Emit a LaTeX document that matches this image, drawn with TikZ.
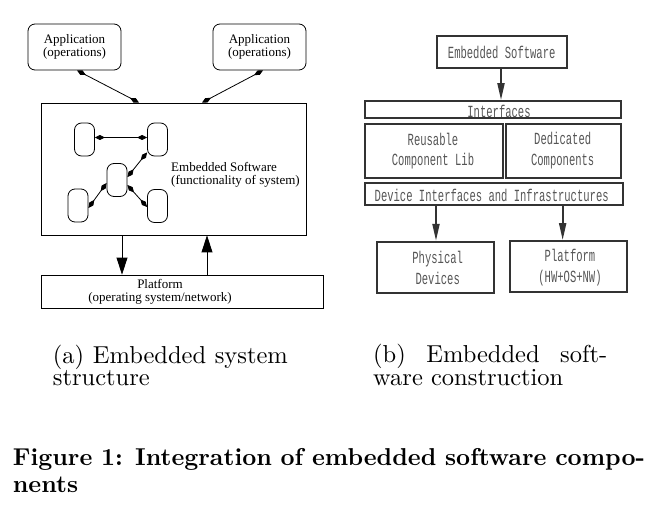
\documentclass[tikz,border=0pt]{standalone}
\usepackage{fontspec}
\newfontfamily\timesf{Liberation Serif}
\newfontfamily\condmono[FakeStretch=0.62]{Liberation Mono}
\newfontfamily\lmten[BoldFont=lmroman10-bold.otf]{lmroman10-regular.otf}
\usetikzlibrary{arrows.meta}
\definecolor{bline}{HTML}{333333}
\definecolor{btext}{HTML}{555555}
\begin{document}
\begin{tikzpicture}[x=1pt,y=-1pt,
  abox/.style={draw=black,line width=0.8pt,inner sep=0pt,align=center,font=\timesf\fontsize{13}{13}\selectfont},
  smallbox/.style={draw=black,line width=0.8pt,inner sep=0pt,rounded corners=7pt,minimum width=20pt,minimum height=33pt},
  atext/.style={inner sep=0pt,font=\timesf\fontsize{13}{13}\selectfont},
  dbl/.style={{Kite[length=10pt,width=5pt,inset=5pt]}-{Kite[length=10pt,width=5pt,inset=5pt]},line width=0.8pt},
  bigarr/.style={-{Triangle[length=17pt,width=11pt]},line width=0.8pt},
  bbox/.style={draw=bline,line width=1.8pt,inner sep=0pt},
  btxt/.style={inner sep=0pt,align=center,text=btext,font=\condmono\fontsize{17}{20.6}\selectfont},
  barr/.style={-{Triangle[length=17pt,width=7pt]},line width=2pt,draw=bline},
  capa/.style={inner sep=0pt,anchor=base west,align=left,font=\lmten\fontsize{24.5}{20.5}\selectfont},
  capf/.style={inner sep=0pt,anchor=base west,font=\lmten\bfseries\fontsize{24.4}{24.4}\selectfont}
]
\useasboundingbox (0,0) rectangle (664,513);

% ---------- (a) ----------
\node[abox,rounded corners=7pt,minimum width=93pt,minimum height=46pt] (app1) at (74.5,47) {Application\\(operations)};
\node[abox,rounded corners=7pt,minimum width=93pt,minimum height=46pt] (app2) at (259.5,47) {Application\\(operations)};
\node[abox,minimum width=265pt,minimum height=132pt] (emb) at (173.5,169) {};
\node[atext,anchor=west,align=left] (embt) at (171,175) {Embedded Software\\(functionality of system)};
\node[abox,minimum width=282pt,minimum height=33pt] (plat) at (182,291.5) {};
\node[atext,align=center] (platt) at (160,292) {Platform\\(operating system/network)};

\node[smallbox] (s1) at (84.5,139.5) {};
\node[smallbox] (s2) at (157.5,139.5) {};
\node[smallbox] (s3) at (117,180) {};
\node[smallbox] (s4) at (78,205.5) {};
\node[smallbox] (s5) at (157.5,206) {};

\draw[dbl] ([yshift=2pt]s1.east) -- ([yshift=2pt]s2.west);
\draw[dbl] ([yshift=4pt]s2.south west) -- ([yshift=-14pt]s3.north east);
\draw[dbl] ([yshift=-3pt]s3.west) -- ([yshift=-2.5pt]s4.east);
\draw[dbl] ([yshift=-5pt]s3.east) -- ([yshift=-1pt]s5.west);

\draw[dbl] ([xshift=2.5pt]app1.south) -- ([xshift=-34.5pt]emb.north);
\draw[dbl] ([xshift=3.5pt]app2.south) -- ([xshift=28.5pt]emb.north);

\draw[bigarr] ([xshift=-51.5pt]emb.south) -- ([xshift=-60pt]plat.north);
\draw[bigarr] ([xshift=25pt]plat.north) -- ([xshift=33.5pt]emb.south);

% ---------- (b) ----------
\node[bbox,minimum width=129.4pt,minimum height=32pt] (es) at (502,51.7) {};
\node[btxt] (est) at (501.7,52.5) {Embedded Software};
\node[bbox,minimum width=255.7pt,minimum height=17.3pt] (intf) at (492.85,109.65) {};
\node[btxt] (intft) at (499,111) {Interfaces};
\node[bbox,minimum width=138.3pt,minimum height=53.4pt] (reus) at (434.15,151) {};
\node[btxt] (reust) at (433,151) {Reusable\\Component Lib};
\node[bbox,minimum width=114.7pt,minimum height=53.4pt] (ded) at (563.35,151) {};
\node[btxt] (dedt) at (562.7,150.5) {Dedicated\\Components};
\node[bbox,minimum width=257.7pt,minimum height=21.7pt] (dev) at (493.85,194.15) {};
\node[btxt] (devt) at (491.7,195) {Device Interfaces and Infrastructures};
\node[bbox,minimum width=117.6pt,minimum height=51.6pt] (phys) at (435.5,267.5) {};
\node[btxt] (physt) at (437.7,268) {Physical\\Devices};
\node[bbox,minimum width=117.3pt,minimum height=51.3pt] (platb) at (568.65,266.65) {};
\node[btxt] (platbt) at (570,267.5) {Platform\\(HW+OS+NW)};

\draw[barr] ([xshift=-1pt]es.south) -- ([xshift=-1pt]es.south |- intf.north);
\draw[barr] ([xshift=0.5pt]phys.north |- dev.south) -- ([xshift=0.5pt]phys.north);
\draw[barr] ([xshift=-6pt]platb.north |- dev.south) -- ([xshift=-6pt]platb.north);

% ---------- captions ----------
\node[capa] (ca) at (52.7,385.5) {\makebox[235pt][s]{(a) Embedded system}\\structure};
\node[capa] (cb) at (373,385.5) {\makebox[234pt][s]{(b) Embedded soft-}\\ware construction};
\node[capf] (cf1) at (12.7,465) {\makebox[632pt][s]{Figure 1: Integration of embedded software compo-}};
\node[capf] (cf2) at (12.7,492) {nents};
\end{tikzpicture}
\end{document}
